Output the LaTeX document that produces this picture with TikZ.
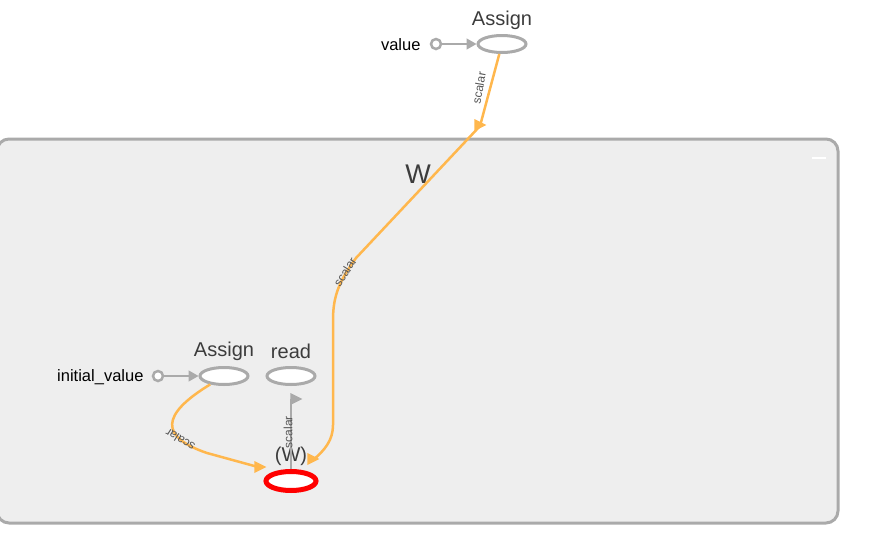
\documentclass[tikz,border=0pt]{standalone}
\usepackage{fontspec}
\setmainfont{Liberation Sans}
\usetikzlibrary{shapes.geometric,arrows.meta}
\definecolor{edgegray}{HTML}{AAAAAA}
\definecolor{boxfill}{HTML}{EEEEEE}
\definecolor{flow}{HTML}{FFB74D}
\definecolor{txt}{HTML}{3C3C3C}
\definecolor{etxt}{HTML}{555555}
\begin{document}
\begin{tikzpicture}[x=1pt,y=-1pt]
\tikzstyle{op} = [ellipse,draw=edgegray,line width=3pt,fill=white,minimum width=48pt,minimum height=17pt,inner sep=0pt] %op node
\tikzstyle{vr} = [ellipse,draw=red,line width=5pt,fill=white,minimum width=50pt,minimum height=19pt,inner sep=0pt] %variable
\tikzstyle{cn} = [circle,draw=edgegray,line width=2.5pt,fill=white,minimum size=10pt,inner sep=0pt] %constant
\tikzstyle{lt} = [text=txt,font=\fontsize{20}{20}\selectfont] %label
\tikzstyle{it} = [text=black,font=\fontsize{16.5}{16.5}\selectfont] %input label
\tikzstyle{et} = [text=etxt,font=\fontsize{12}{12}\selectfont,inner sep=1pt] %edge label
\tikzstyle{ge} = [draw=edgegray,line width=1.5pt,-{Triangle[length=10pt,width=11pt]}] %gray edge
\tikzstyle{fe} = [draw=flow,line width=2.5pt] %flow edge
\tikzstyle{mk} = [isosceles triangle,isosceles triangle stretches,inner sep=0pt,minimum width=12pt,minimum height=12pt,anchor=apex] %marker
\useasboundingbox(0,0)rectangle(876,552);
% cluster W
\draw[draw=edgegray,fill=boxfill,line width=3pt,rounded corners=12pt](-3,139)rectangle(838,523);
\node[text=txt,font=\fontsize{27}{27}\selectfont](tw)at(418,174){W};
\draw[white,line width=2.5pt](812,158)--(826,158);
% nodes
\node[op](na)at(502,44){};
\node[lt](la)at(502,20){Assign};
\node[cn](cv)at(436,44){};
\node[it,anchor=east](lv)at(424,45){value};
\node[op](nb)at(224,376){};
\node[lt](lb)at(224,351){Assign};
\node[op](nr)at(291,376){};
\node[lt](lr)at(291,351){read};
\node[cn](ci)at(158,376){};
\node[it,anchor=east](li)at(147,377){initial\_value};
\node[vr](nw)at(291,481){};
\node[lt](lw)at(291,456){(W)};
\coordinate(m1)at(480,126);
\coordinate(m2)at(313,460);
\coordinate(m3)at(258,467);
\coordinate(m4)at(291,399);
% edges
\draw[ge](cv)--(na);
\draw[ge](ci)--(nb);
\draw[fe](na)--(m1)--(356,258)..controls(340,280)and(333,295)..(333,320)--(333,425)..controls(333,440)and(325,450)..(m2);
\draw[fe](nb)..controls(160,415)and(160,437)..(207,453)--(m3);
\draw[draw=edgegray,line width=2pt](nw)--(m4);
\node[mk,fill=flow](k1)at(487,125){};
\node[mk,fill=flow](k2)at(320,459){};
\node[mk,fill=flow](k3)at(267,467){};
\node[mk,fill=edgegray](k4)at(303,399){};
\node[et,rotate=80](s1)at(479,88){scalar};
\node[et,rotate=58](s2)at(345,272){scalar};
\node[et,rotate=148](s3)at(180,440){scalar};
\node[et,rotate=90](s4)at(288,432){scalar};
\end{tikzpicture}
\end{document}
